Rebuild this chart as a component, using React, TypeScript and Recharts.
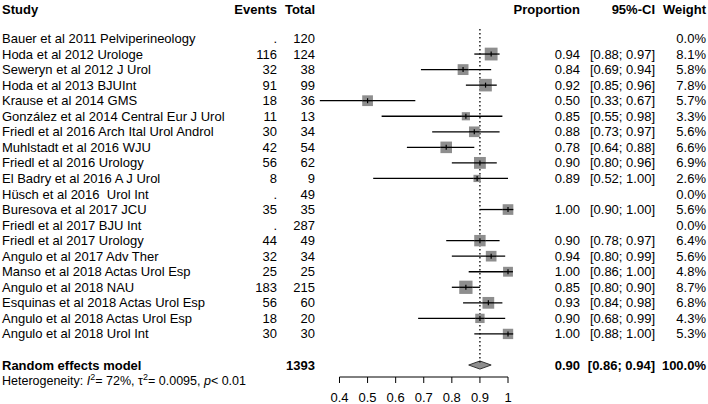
import React from "react";
import { Area, ComposedChart, ErrorBar, ReferenceLine, Scatter, XAxis, YAxis } from "recharts";

const studies = [
  "Bauer et al 2011 Pelviperineology",
  "Hoda et al 2012 Urologe",
  "Seweryn et al 2012 J Urol",
  "Hoda et al 2013 BJUInt",
  "Krause et al 2014 GMS",
  "González et al 2014 Central Eur J Urol",
  "Friedl et al 2016 Arch Ital Urol Androl",
  "Muhlstadt et al 2016 WJU",
  "Friedl et al 2016 Urology",
  "El Badry et al 2016 A J Urol",
  "Hüsch et al 2016  Urol Int",
  "Buresova et al 2017 JCU",
  "Friedl et al 2017 BJU Int",
  "Friedl et al 2017 Urology",
  "Angulo et al 2017 Adv Ther",
  "Manso et al 2018 Actas Urol Esp",
  "Angulo et al 2018 NAU",
  "Esquinas et al 2018 Actas Urol Esp",
  "Angulo et al 2018 Actas Urol Esp",
  "Angulo et al 2018 Urol Int",
];
const events: (number | null)[] = [null, 116, 32, 91, 18, 11, 30, 42, 56, 8, null, 35, null, 44, 32, 25, 183, 56, 18, 30];
const totals = [120, 124, 38, 99, 36, 13, 34, 54, 62, 9, 49, 35, 287, 49, 34, 25, 215, 60, 20, 30];
const proportions: (number | null)[] = [null, 0.94, 0.84, 0.92, 0.5, 0.85, 0.88, 0.78, 0.9, 0.89, null, 1.0, null, 0.9, 0.94, 1.0, 0.85, 0.93, 0.9, 1.0];
const ciLower: (number | null)[] = [null, 0.88, 0.69, 0.85, 0.33, 0.55, 0.73, 0.64, 0.8, 0.52, null, 0.9, null, 0.78, 0.8, 0.86, 0.8, 0.84, 0.68, 0.88];
const ciUpper: (number | null)[] = [null, 0.97, 0.94, 0.96, 0.67, 0.98, 0.97, 0.88, 0.96, 1.0, null, 1.0, null, 0.97, 0.99, 1.0, 0.9, 0.98, 0.99, 1.0];
const weights = [0.0, 8.1, 5.8, 7.8, 5.7, 3.3, 5.6, 6.6, 6.9, 2.6, 0.0, 5.6, 0.0, 6.4, 5.6, 4.8, 8.7, 6.8, 4.3, 5.3];

const pooledLabel = "Random effects model";
const pooledTotal = 1393;
const pooledEst = 0.9;
const pooledLower = 0.86;
const pooledUpper = 0.94;
const pooledWeight = 100.0;

const xTicks = [0.4, 0.5, 0.6, 0.7, 0.8, 0.9, 1];

// layout in "row" units
const HEADER_ROW = -1.9;
const POOLED_ROW = 21;
const Y_DOMAIN: [number, number] = [-2.476, 21.77];
const X_DOMAIN: [number, number] = [0.295, 1.0783];
const DIAMOND_HALF = 0.26;
const FONT = "'Liberation Sans', Arial, Helvetica, sans-serif";
const GRAY = "#8e8e8e";

const points = studies
  .map((s, i) => ({
    x: proportions[i],
    y: i,
    w: weights[i],
    err: proportions[i] == null ? [0, 0] : [proportions[i]! - ciLower[i]!, ciUpper[i]! - proportions[i]!],
  }))
  .filter((d) => d.x != null);

const diamond = [
  { x: pooledLower, band: [POOLED_ROW, POOLED_ROW] },
  { x: pooledEst, band: [POOLED_ROW - DIAMOND_HALF, POOLED_ROW + DIAMOND_HALF] },
  { x: pooledUpper, band: [POOLED_ROW, POOLED_ROW] },
];

const ticks = [HEADER_ROW, ...studies.map((_, i) => i), POOLED_ROW];

const fmt2 = (v: number) => v.toFixed(2);
const ci = (lo: number, hi: number) => `[${fmt2(lo)}; ${fmt2(hi)}]`;

function Cols({ y, bold, cells }: { y: number; bold?: boolean; cells: string[] }) {
  const w = bold ? "bold" : "normal";
  const common = { y, dy: "0.35em", fontSize: 13, fill: "#000", fontWeight: w, style: { whiteSpace: "pre" as const } };
  return (
    <g fontFamily={FONT}>
      <text x={2} textAnchor="start" {...common}>{cells[0]}</text>
      <text x={277} textAnchor="end" {...common}>{cells[1]}</text>
      <text x={315} textAnchor="end" {...common}>{cells[2]}</text>
      <text x={580} textAnchor="end" {...common}>{cells[3]}</text>
      <text x={655} textAnchor="end" {...common}>{cells[4]}</text>
      <text x={706} textAnchor="end" {...common}>{cells[5]}</text>
    </g>
  );
}

function RowTick(props: any) {
  const { y, payload } = props;
  const r = payload.value;
  if (r === HEADER_ROW) {
    return <Cols y={y} bold cells={["Study", "Events", "Total", "Proportion", "95%-CI", "Weight"]} />;
  }
  if (r === POOLED_ROW) {
    return (
      <g>
        <Cols
          y={y}
          bold
          cells={[pooledLabel, "", String(pooledTotal), fmt2(pooledEst), ci(pooledLower, pooledUpper), pooledWeight.toFixed(1) + "%"]}
        />
        <text x={2} y={y + 15.5} dy="0.35em" fontSize={12.5} fontFamily={FONT} fill="#000">
          Heterogeneity: <tspan fontStyle="italic">I</tspan>
          <tspan dy={-5} fontSize={9}>2</tspan>
          <tspan dy={5}>= 72%, τ</tspan>
          <tspan dy={-5} fontSize={9}>2</tspan>
          <tspan dy={5}>= 0.0095, </tspan>
          <tspan fontStyle="italic">p</tspan>
          <tspan>{"< 0.01"}</tspan>
        </text>
      </g>
    );
  }
  const i = Math.round(r);
  const p = proportions[i];
  return (
    <Cols
      y={y}
      cells={[
        studies[i],
        events[i] == null ? "." : String(events[i]),
        String(totals[i]),
        p == null ? "" : fmt2(p),
        p == null ? "" : ci(ciLower[i]!, ciUpper[i]!),
        weights[i].toFixed(1) + "%",
      ]}
    />
  );
}

function Square(props: any) {
  const { cx, cy, payload } = props;
  const s = 4.5 * Math.sqrt(payload.w);
  return (
    <g>
      <rect x={cx - s / 2} y={cy - s / 2} width={s} height={s} fill={GRAY} />
      <line x1={cx - s / 2} x2={cx + s / 2} y1={cy} y2={cy} stroke="#000" strokeWidth={1.3} />
      <line x1={cx} x2={cx} y1={cy - 2.5} y2={cy + 2.5} stroke="#000" strokeWidth={1.2} />
    </g>
  );
}

export default function App() {
  return (
    <div style={{ position: "absolute", left: 0, top: 0, background: "#fff", fontFamily: FONT }}>
      <ComposedChart width={708} height={404} margin={{ top: 0, right: 178, bottom: 0, left: 0 }}>
        <XAxis
          type="number"
          dataKey="x"
          domain={X_DOMAIN}
          allowDataOverflow
          ticks={xTicks}
          interval={0}
          axisLine={false}
          tickLine={{ stroke: "#000", strokeWidth: 1 }}
          tickSize={6}
          tickMargin={10}
          height={27}
          tick={{ fontSize: 13, fill: "#000", fontFamily: FONT }}
          tickFormatter={(v: number) => String(v)}
        />
        <YAxis
          type="number"
          dataKey="y"
          domain={Y_DOMAIN}
          allowDataOverflow
          reversed
          ticks={ticks}
          interval={0}
          width={310}
          axisLine={false}
          tickLine={false}
          tick={<RowTick />}
        />
        <ReferenceLine
          segment={[{ x: 0.9, y: -0.61 }, { x: 0.9, y: POOLED_ROW }]}
          stroke="#000"
          strokeWidth={1.3}
          strokeDasharray="1.5 2.5"
          ifOverflow="visible"
        />
        <ReferenceLine
          segment={[{ x: xTicks[0], y: Y_DOMAIN[1] }, { x: xTicks[xTicks.length - 1], y: Y_DOMAIN[1] }]}
          stroke="#000"
          strokeWidth={1}
          ifOverflow="visible"
        />
        <Scatter data={points} shape={<Square />} isAnimationActive={false}>
          <ErrorBar dataKey="err" direction="x" width={0} stroke="#000" strokeWidth={1.3} isAnimationActive={false} />
        </Scatter>
        <Area
          data={diamond}
          dataKey="band"
          type="linear"
          fill={GRAY}
          fillOpacity={1}
          stroke="#333"
          strokeWidth={1}
          isAnimationActive={false}
        />
      </ComposedChart>
    </div>
  );
}
